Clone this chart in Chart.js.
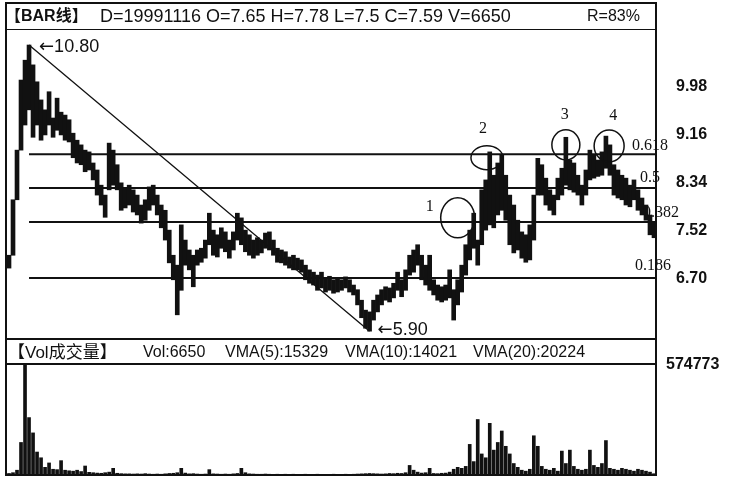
<!DOCTYPE html>
<html>
<head>
<meta charset="utf-8">
<script src="https://cdn.jsdelivr.net/npm/chart.js@4.4.1/dist/chart.umd.min.js"></script>
<style>
    body { margin: 0; background: #fff; width: 729px; height: 477px; position: relative; overflow: hidden;
           font-family: "Liberation Sans", "Noto Sans CJK SC", sans-serif; color: #111; }
    .ln  { position: absolute; background: #111; }
    .txt { position: absolute; white-space: nowrap; line-height: 1; }
    canvas { position: absolute; left: 0; }
</style>
</head>
<body>
<canvas id="priceChart" width="729" height="340" style="top:0"></canvas>
<canvas id="volChart" width="729" height="137" style="top:340px"></canvas>

<div class="ln" style="left:5px;top:2px;width:652px;height:2px"></div>
<div class="ln" style="left:5px;top:2px;width:2px;height:474px"></div>
<div class="ln" style="left:655px;top:2px;width:2px;height:474px"></div>
<div class="ln" style="left:5px;top:29px;width:652px;height:1px"></div>
<div class="ln" style="left:5px;top:338px;width:652px;height:2px"></div>
<div class="ln" style="left:5px;top:363px;width:652px;height:2px"></div>
<div class="ln" style="left:5px;top:474px;width:652px;height:2px"></div>

<div class="txt" style="left:5px;top:8px;font-size:16px;font-weight:bold">【BAR线】</div>
<div class="txt" style="left:100px;top:7px;font-size:18px">D=19991116 O=7.65 H=7.78 L=7.5 C=7.59 V=6650</div>
<div class="txt" style="left:587px;top:8px;font-size:16px">R=83%</div>

<div class="txt" style="left:8px;top:344px;font-size:17px">【Vol成交量】</div>
<div class="txt" style="left:143px;top:344px;font-size:16px">Vol:6650</div>
<div class="txt" style="left:225px;top:344px;font-size:16px">VMA(5):15329</div>
<div class="txt" style="left:345px;top:344px;font-size:16px">VMA(10):14021</div>
<div class="txt" style="left:473px;top:344px;font-size:16px">VMA(20):20224</div>

<script>
// daily bars, oldest first, up to 1999-11-16
const HIGH = [
    7.20, 8.15, 9.00, 10.20, 10.54, 10.80, 10.46, 10.17, 9.86, 9.69,
    10.00, 9.55, 9.89, 9.65, 9.60, 9.52, 9.29, 9.17, 9.09, 9.00,
    8.97, 8.78, 8.66, 8.40, 8.23, 9.12, 9.00, 8.75, 8.44, 8.35,
    8.40, 8.32, 8.23, 8.06, 8.15, 8.37, 8.40, 8.23, 8.06, 7.97,
    7.63, 7.20, 7.03, 7.72, 7.46, 7.29, 7.20, 7.29, 7.32, 7.46,
    7.92, 7.63, 7.55, 7.67, 7.60, 7.46, 7.60, 7.92, 7.84, 7.63,
    7.55, 7.46, 7.50, 7.46, 7.58, 7.60, 7.46, 7.32, 7.29, 7.26,
    7.17, 7.20, 7.15, 7.12, 7.03, 6.95, 6.91, 6.86, 6.91, 6.81,
    6.84, 6.78, 6.81, 6.78, 6.83, 6.78, 6.69, 6.61, 6.43, 6.26,
    6.23, 6.43, 6.52, 6.61, 6.66, 6.64, 6.72, 6.91, 6.78, 6.95,
    7.20, 7.29, 7.38, 7.20, 7.03, 7.20, 6.78, 6.69, 6.66, 6.69,
    6.95, 6.61, 6.78, 7.03, 7.38, 7.63, 7.92, 7.46, 8.32, 8.49,
    8.97, 8.57, 8.78, 8.92, 8.57, 8.23, 8.06, 7.80, 7.60, 7.55,
    7.72, 8.23, 8.86, 8.75, 8.52, 8.32, 8.23, 8.52, 8.69, 9.22,
    8.83, 8.78, 8.57, 8.40, 8.66, 9.00, 8.92, 8.83, 8.97, 9.24,
    9.09, 8.75, 8.66, 8.57, 8.52, 8.40, 8.49, 8.32, 8.18, 8.06, 7.89, 7.78
];
const LOW = [
    6.98, 7.20, 8.15, 9.00, 9.43, 9.69, 9.22, 9.43, 9.17, 9.26,
    9.43, 9.22, 9.34, 9.26, 9.17, 9.14, 8.87, 8.78, 8.75, 8.63,
    8.66, 8.49, 8.23, 8.06, 7.85, 8.32, 8.40, 8.32, 7.97, 8.01,
    8.06, 7.94, 7.89, 7.75, 7.80, 7.97, 8.06, 7.89, 7.67, 7.46,
    7.07, 6.78, 6.18, 6.60, 7.03, 6.95, 6.66, 7.03, 7.08, 7.15,
    7.38, 7.20, 7.17, 7.32, 7.26, 7.15, 7.29, 7.46, 7.38, 7.26,
    7.20, 7.15, 7.20, 7.24, 7.32, 7.29, 7.20, 7.08, 7.07, 7.03,
    6.98, 6.95, 6.95, 6.91, 6.78, 6.72, 6.69, 6.60, 6.64, 6.57,
    6.60, 6.55, 6.57, 6.60, 6.64, 6.57, 6.52, 6.35, 6.13, 5.95,
    5.90, 6.09, 6.23, 6.35, 6.43, 6.40, 6.47, 6.60, 6.49, 6.60,
    6.86, 6.91, 7.03, 6.78, 6.69, 6.60, 6.52, 6.43, 6.40, 6.43,
    6.47, 6.09, 6.35, 6.57, 6.86, 7.12, 7.32, 7.03, 7.38, 7.63,
    7.72, 7.67, 7.89, 7.97, 7.80, 7.38, 7.24, 7.29, 7.15, 7.08,
    7.12, 7.46, 8.23, 8.23, 8.06, 7.97, 7.89, 8.15, 8.23, 8.40,
    8.32, 8.28, 8.23, 8.06, 8.23, 8.49, 8.52, 8.55, 8.57, 8.69,
    8.57, 8.23, 8.18, 8.15, 8.06, 8.03, 8.15, 7.97, 7.89, 7.80, 7.55, 7.50
];
const VOLUME = [
    8000, 12000, 25000, 170000, 574773, 300000, 220000, 120000, 90000, 40000,
    63000, 30000, 28000, 75000, 25000, 22000, 20000, 25000, 18000, 47000,
    14000, 12000, 10000, 9000, 12000, 15000, 35000, 9000, 7000, 6000,
    6000, 5000, 6000, 5000, 7000, 5000, 4000, 5000, 4000, 6000,
    8000, 9000, 12000, 35000, 10000, 6000, 7000, 5000, 4000, 5000,
    28000, 6000, 5000, 4000, 5000, 4000, 6000, 8000, 35000, 12000,
    6000, 5000, 4000, 4000, 5000, 4000, 3000, 4000, 3000, 4000,
    3000, 4000, 3000, 3000, 4000, 3000, 3000, 4000, 3000, 3000,
    3000, 4000, 3000, 3000, 4000, 3000, 4000, 5000, 6000, 7000,
    8000, 7000, 6000, 5000, 6000, 8000, 7000, 9000, 8000, 12000,
    50000, 25000, 15000, 10000, 12000, 35000, 8000, 7000, 9000, 10000,
    15000, 30000, 40000, 35000, 45000, 160000, 70000, 290000, 110000, 90000,
    270000, 130000, 170000, 230000, 150000, 110000, 60000, 40000, 25000, 20000,
    30000, 205000, 150000, 45000, 30000, 25000, 35000, 20000, 125000, 60000,
    130000, 45000, 30000, 25000, 30000, 130000, 50000, 40000, 60000, 180000,
    35000, 30000, 25000, 35000, 30000, 25000, 20000, 30000, 25000, 20000, 15000, 6650
];

const PRICE_TICKS = [9.98, 9.16, 8.34, 7.52, 6.70];
const VOL_TICKS = [574773];

const PEAK_BAR = 5,  PEAK_PRICE = 10.80;
const LOW_BAR = 90,  LOW_PRICE = 5.90;

const FIB_LEVELS = [8.93, 8.35, 7.77, 6.81];
const FIB_LABELS = ['0.618', '0.5', '0.382', '0.186'];

const CIRCLE_BAR   = [112, 119.3, 139, 149.8];
const CIRCLE_PRICE = [7.84, 8.87, 9.09, 9.07];
const CIRCLE_LABELS = ['1', '2', '3', '4'];

const LAST_X = HIGH.length - 0.5;

// px tweaks for the hand-drawn marks
const CIRCLE_RX = [17, 16, 14, 15];
const CIRCLE_RY = [20, 12, 15, 16];
const CIRCLE_TXT = [[-28, -11], [-4, -29], [-1, -30], [4, -30]];
const FIB_TXT_LEFT = [632, 640, 643, 635];
const FIB_TXT_DY = [-8, -10, -9, -12];

const INK = '#111';

const bars = HIGH.map((h, i) => ({ x: i, y: [LOW[i], h] }));
const vols = VOLUME.map((v, i) => ({ x: i, y: v }));

function xAxis()
{
    return { type: 'linear', min: -0.5, max: LAST_X, offset: false, display: false };
}

function fitRight(s)
{
    s.width = 73;
    s.paddingTop = 0;
    s.paddingBottom = 0;
}

const marks = {
    id: 'marks',
    afterDatasetsDraw(chart)
    {
        const { ctx, scales: { x, y } } = chart;

        ctx.save();
        ctx.strokeStyle = INK;
        ctx.fillStyle = INK;
        ctx.lineWidth = 1.5;
        ctx.textBaseline = 'middle';

        CIRCLE_BAR.forEach((b, k) => {
            const cx = x.getPixelForValue(b);
            const cy = y.getPixelForValue(CIRCLE_PRICE[k]);

            ctx.beginPath();
            ctx.ellipse(cx, cy, CIRCLE_RX[k], CIRCLE_RY[k], 0, 0, Math.PI * 2);
            ctx.stroke();

            ctx.font = '16px "Liberation Serif", serif';
            ctx.textAlign = 'center';
            ctx.fillText(CIRCLE_LABELS[k], cx + CIRCLE_TXT[k][0], cy + CIRCLE_TXT[k][1]);
        });

        ctx.font = '16px "Liberation Serif", serif';
        ctx.textAlign = 'left';
        FIB_LEVELS.forEach((lv, k) => {
            ctx.fillText(FIB_LABELS[k], FIB_TXT_LEFT[k], y.getPixelForValue(lv) + FIB_TXT_DY[k]);
        });

        const arrowLabel = (px, py, txt) => {
            ctx.font = '18px "DejaVu Sans", sans-serif';
            ctx.fillText('\u2190', px, py);
            const w = ctx.measureText('\u2190').width;
            ctx.font = '18px "Liberation Sans", sans-serif';
            ctx.fillText(txt, px + w, py);
        };
        arrowLabel(x.getPixelForValue(PEAK_BAR) + 10, y.getPixelForValue(PEAK_PRICE) + 2, PEAK_PRICE.toFixed(2));
        arrowLabel(x.getPixelForValue(LOW_BAR) + 8, y.getPixelForValue(LOW_PRICE) - 1, LOW_PRICE.toFixed(2));

        ctx.restore();
    }
};

const lineSet = (pts, w) => ({
    type: 'line',
    data: pts,
    borderColor: INK,
    borderWidth: w,
    pointRadius: 0,
    tension: 0
});

new Chart(document.getElementById('priceChart'), {
    type: 'bar',
    data: {
        datasets: [
            { data: bars, backgroundColor: INK, barThickness: 4, borderSkipped: false },
            lineSet([{ x: PEAK_BAR, y: PEAK_PRICE }, { x: LOW_BAR, y: LOW_PRICE }], 1.3),
            ...FIB_LEVELS.map(lv => lineSet([{ x: PEAK_BAR, y: lv }, { x: LAST_X, y: lv }], 2))
        ]
    },
    options: {
        responsive: false,
        animation: false,
        devicePixelRatio: 1,
        layout: { padding: { left: 7, top: 30, bottom: 2, right: 0 } },
        plugins: { legend: { display: false }, tooltip: { enabled: false } },
        scales: {
            x: xAxis(),
            y: {
                position: 'right',
                min: 5.783,
                max: 11.057,
                afterBuildTicks: s => { s.ticks = PRICE_TICKS.map(v => ({ value: v })); },
                afterFit: fitRight,
                grid: { display: false, drawTicks: false },
                border: { display: false },
                ticks: {
                    autoSkip: false,
                    padding: 20,
                    labelOffset: -6,
                    color: INK,
                    font: { family: '"Liberation Sans", sans-serif', size: 16, weight: 'bold' },
                    callback: v => v.toFixed(2)
                }
            }
        }
    },
    plugins: [marks]
});

new Chart(document.getElementById('volChart'), {
    type: 'bar',
    data: {
        datasets: [{ data: vols, backgroundColor: INK, barThickness: 3 }]
    },
    options: {
        responsive: false,
        animation: false,
        devicePixelRatio: 1,
        layout: { padding: { left: 7, top: 25, bottom: 2, right: 0 } },
        plugins: { legend: { display: false }, tooltip: { enabled: false } },
        scales: {
            x: xAxis(),
            y: {
                position: 'right',
                min: 0,
                max: VOL_TICKS[0],
                afterBuildTicks: s => { s.ticks = VOL_TICKS.map(v => ({ value: v })); },
                afterFit: fitRight,
                grid: { display: false, drawTicks: false },
                border: { display: false },
                ticks: {
                    autoSkip: false,
                    padding: 10,
                    color: INK,
                    font: { family: '"Liberation Sans", sans-serif', size: 16, weight: 'bold' },
                    callback: v => String(v)
                }
            }
        }
    }
});
</script>
</body>
</html>
